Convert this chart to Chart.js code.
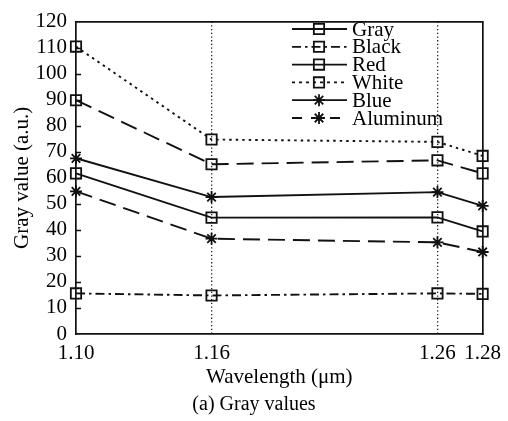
<!DOCTYPE html>
<html>
<head>
<meta charset="utf-8">
<script src="https://cdn.jsdelivr.net/npm/chart.js@4"></script>
<style>
  html, body { margin: 0; padding: 0; background: #fff; }
  #wrap { width: 508px; height: 421px; position: relative; }
</style>
</head>
<body>
<div id="wrap"><canvas id="grayChart"></canvas></div>
<script>
// gray values per sample, read at four wavelengths (µm)
const wavelengths = [1.10, 1.16, 1.26, 1.28];
const gray     = [61.7, 44.7, 44.8, 39.4];
const black    = [15.6, 14.8, 15.6, 15.4];
const red      = [89.8, 65.2, 66.7, 61.7];
const white    = [110.4, 74.7, 73.8, 68.4];
const blue     = [67.5, 52.6, 54.5, 49.2];
const aluminum = [54.8, 36.6, 35.2, 31.5];
const guideLines = [1.16, 1.26];

const serif = 'Liberation Serif';
Chart.defaults.font.family = serif;
Chart.defaults.color = '#000';

const pts = arr => arr.map((v, i) => ({ x: wavelengths[i], y: v }));

function series(label, values, dash, style, legendDash) {
    return {
        label: label,
        data: pts(values),
        borderColor: '#111',
        backgroundColor: 'rgba(0,0,0,0)',
        borderWidth: 1.9,
        borderDash: dash,
        pointStyle: style,
        pointRadius: style === 'rect' ? 7.3 : 6,
        pointBorderWidth: 1.8,
        pointBorderColor: '#111',
        pointBackgroundColor: 'rgba(0,0,0,0)',
        tension: 0,
        clip: false,
        legendDash: legendDash
    };
}

const datasets = [
    series('Gray', gray, [], 'rect', []),
    series('Black', black, [9, 4, 2.5, 4], 'rect', [9, 4, 2.5, 4]),
    series('Red', red, [17, 8], 'rect', []),
    series('White', white, [2.5, 4], 'rect', [3, 4]),
    series('Blue', blue, [], 'star', []),
    series('Aluminum', aluminum, [17, 8], 'star', [10, 9])
];

// inward y ticks and the line-style legend
const extras = {
    id: 'extras',
    afterDatasetsDraw(chart) {
        const ctx = chart.ctx;
        const a = chart.chartArea;
        const ys = chart.scales.y;
        ctx.save();
        ctx.strokeStyle = '#111';
        ctx.lineWidth = 1.5;
        ctx.setLineDash([]);
        for (let v = 10; v < 120; v += 10) {
            const py = Math.round(ys.getPixelForValue(v)) + 0.5;
            ctx.beginPath();
            ctx.moveTo(a.left, py);
            ctx.lineTo(a.left + 5, py);
            ctx.stroke();
        }

        // legend
        const x0 = 292, x1 = 347, tx = 352;
        let y = 29;
        ctx.font = '21px "' + serif + '"';
        ctx.textBaseline = 'middle';
        chart.data.datasets.forEach(ds => {
            ctx.lineWidth = 1.8;
            ctx.setLineDash(ds.legendDash);
            ctx.beginPath();
            ctx.moveTo(x0, y);
            ctx.lineTo(x1, y);
            ctx.stroke();
            ctx.setLineDash([]);
            ctx.fillStyle = 'rgba(0,0,0,0)';
            Chart.helpers.drawPoint(ctx, {
                pointStyle: ds.pointStyle,
                radius: ds.pointRadius,
                rotation: 0,
                borderWidth: 1.8
            }, (x0 + x1) / 2 - 0.5, y);
            ctx.fillStyle = '#000';
            ctx.fillText(ds.label, tx, y + 1);
            y += 17.8;
        });
        ctx.restore();
    }
};

new Chart(document.getElementById('grayChart'), {
    type: 'line',
    data: { datasets: datasets },
    options: {
        responsive: true,
        maintainAspectRatio: false,
        animation: false,
        layout: { padding: 0 },
        plugins: {
            legend: { display: false },
            tooltip: { enabled: false },
            title: {
                display: true,
                position: 'bottom',
                text: '(a) Gray values',
                font: { size: 20, weight: 'normal' },
                padding: { top: 0, bottom: 4 }
            }
        },
        scales: {
            x: {
                type: 'linear',
                position: 'bottom',
                min: 1.10,
                max: 1.28,
                afterBuildTicks: scale => {
                    scale.ticks = wavelengths.map(v => ({ value: v }));
                },
                afterFit: scale => { scale.height = 59; },
                ticks: {
                    font: { size: 21 },
                    padding: 7,
                    maxRotation: 0,
                    autoSkip: false,
                    callback: v => Number(v).toFixed(2)
                },
                grid: {
                    drawTicks: false,
                    lineWidth: 1.3,
                    color: c => (c.tick && guideLines.includes(c.tick.value)) ? '#222' : 'rgba(0,0,0,0)'
                },
                border: { color: '#111', width: 1.7, dash: [1.3, 2.4] },
                title: {
                    display: true,
                    text: 'Wavelength (μm)',
                    font: { size: 21 },
                    padding: { top: 0, bottom: 3 }
                }
            },
            x2: {
                type: 'linear',
                position: 'top',
                min: 1.10,
                max: 1.28,
                afterFit: scale => { scale.height = 17; },
                ticks: { display: false },
                grid: { display: false, drawTicks: false },
                border: { color: '#111', width: 1.7 }
            },
            y: {
                position: 'left',
                min: 0,
                max: 120,
                afterFit: scale => { scale.width = 76; },
                ticks: {
                    stepSize: 10,
                    autoSkip: false,
                    font: { size: 21 },
                    padding: 9
                },
                grid: { display: false, drawTicks: false },
                border: { color: '#111', width: 1.7 },
                title: {
                    display: true,
                    text: 'Gray value (a.u.)',
                    font: { size: 21 },
                    padding: { top: 10, bottom: 0 }
                }
            },
            y2: {
                position: 'right',
                min: 0,
                max: 120,
                afterFit: scale => { scale.width = 24; },
                ticks: { display: false },
                grid: { display: false, drawTicks: false },
                border: { color: '#111', width: 1.7 }
            }
        }
    },
    plugins: [extras]
});
</script>
</body>
</html>
